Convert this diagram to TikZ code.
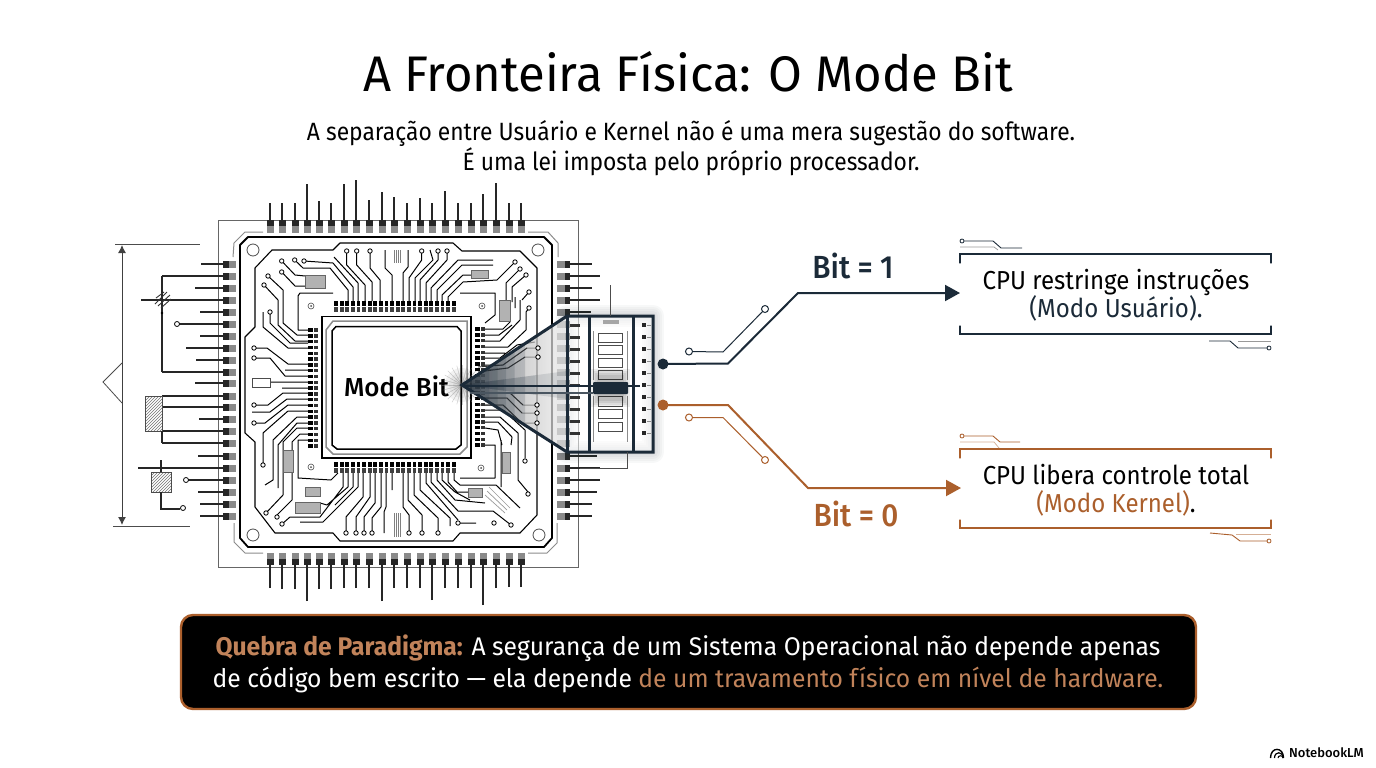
\documentclass[tikz,border=0pt]{standalone}
\usepackage{fontspec}
\setmainfont{Fira Sans}
\newfontfamily\ttl[FakeStretch=0.98]{Fira Sans}
\newfontfamily\cond[FakeStretch=0.913]{Fira Sans}
\newfontfamily\boxf[FakeStretch=0.925]{Fira Sans}
\newfontfamily\banf[FakeStretch=0.967,BoldFont={Fira Sans Bold}]{Fira Sans}
\newfontfamily\med{Fira Sans Medium}
\newfontfamily\bitf[FakeStretch=0.93]{Fira Sans Medium}
\usetikzlibrary{patterns,arrows.meta}
\definecolor{navy}{HTML}{1B2A38}
\definecolor{rust}{HTML}{AB5F2C}
\definecolor{rustl}{HTML}{C1835A}
\definecolor{padg}{HTML}{8A8A8A}
\newcommand\fs[1]{\fontsize{#1}{#1}\selectfont}
\tikzset{
 tr/.style={line width=1pt,black,line join=round},
 thin gray/.style={line width=0.7pt,black!40},
 ringst/.style={line width=0.8pt,black,fill=white},
 pin/.style={line width=1.2pt,black!85},
 frame/.style={line width=1.8pt,black,line join=round},
 hatch/.style={draw=black!70,line width=0.7pt,pattern=north east lines,pattern color=black!55},
 chipn/.style={fill=black!30,draw=black!60,line width=0.4pt},
 lbl/.style={inner sep=0pt,anchor=base,align=center},
 brk/.style={line width=1.1pt,line cap=round},
 mem/.style={draw=black!70,line width=0.8pt,fill=white},
}
\begin{document}
\begin{tikzpicture}[x=1pt,y=-1pt]
\useasboundingbox (0,0) rectangle (1376,768);
\fill[white] (0,0) rectangle (1376,768);

% title
\node[lbl] (title) at (688,92) {\ttl\fs{50}A Fronteira Física: O Mode Bit};
\node[lbl] (sub1) at (691,140) {\cond\fs{25}A separação entre Usuário e Kernel não é uma mera sugestão do software.};
\node[lbl] (sub2) at (691,170) {\cond\fs{25}É uma lei imposta pelo próprio processador.};

% outer board
\draw[line width=0.8pt,black!60] (218,220) rectangle (578,567);
\draw[line width=1pt,black!45] (233,257)--(234,243)--(245,232)--(263,232);
\draw[line width=1pt,black!45] (528,232)--(548,232)--(558,243)--(558,257);
\draw[line width=1pt,black!45] (234,523)--(234,542)--(245,553)--(263,553);
\draw[line width=1pt,black!45] (528,553)--(547,553)--(557,543)--(557,523);
\draw[frame] (248,237)--(544,237)--(552,245)--(552,538)--(544,547)--(248,547)--(240,538)--(240,245)--cycle;
\draw[tr,line width=1.1pt] (255,268)--(272,250)--(333,250)--(340,243)--(453,243)--(462,251)--(520,251)--(537,268)--(537,515)--(520,533)--(460,533)--(453,541)--(340,541)--(333,533)--(275,533)--(255,507)--(255,442)--(245,433)--(245,337)--(255,327)--cycle;
\foreach \x/\y in {253/250,538/250,253/535,539/535} \draw[line width=0.8pt,black!70] (\x,\y) circle (6pt);

% board pads and pins
\foreach \x/\t [count=\i] in {270/203,282/203,295/203,307/184,319/201,331/203,344/184,356/180,369/200,382/192,394/197,407/203,420/198,432/203,445/191,458/203,471/203,483/194,496/183,509/203,521/203}{
  \draw[pin] (\x,\t)--(\x,220);
  \fill[black!85] (\x-3.5,220) rectangle (\x+3.5,226);
  \fill[padg] (\x-3.5,226) rectangle (\x+3.5,233);
}
\foreach \x/\t in {270/588,282/589,295/589,307/601,319/589,331/589,344/588,356/588,369/588,382/601,394/588,407/588,420/588,432/600,445/588,458/588,471/588,483/605,496/588,509/587,521/587}{
  \draw[pin] (\x,\t)--(\x,564);
  \fill[padg] (\x-3.5,553) rectangle (\x+3.5,559);
  \fill[black!85] (\x-3.5,559) rectangle (\x+3.5,565);
}
\foreach \y/\t in {264/201,276/162,288/195,300/141,312/200,324/177,336/200,348/186,360/196,372/162,383/195,396/162,407/162,419/199,431/162,443/162,456/198,468/138,480/186,492/198,504/200,516/200}{
  \draw[pin] (\t,\y)--(223,\y);
  \fill[black!85] (223,\y-3.5) rectangle (229,\y+3.5);
  \fill[padg] (229,\y-3.5) rectangle (236,\y+3.5);
}
\foreach \y/\t in {264/592,276/600,288/592,300/600,312/591,324/570,336/570,348/570,360/570,372/570,383/570,396/570,407/570,419/570,431/570,443/570,456/597,468/600,480/600,492/597,504/592,516/592}{
  \draw[pin] (570,\y)--(\t,\y);
  \fill[padg] (557,\y-3.5) rectangle (565,\y+3.5);
  \fill[black!85] (565,\y-3.5) rectangle (570,\y+3.5);
}

% left schematic
\draw[line width=1pt,black!70] (115,244)--(200,244) (113,526)--(190,526);
\draw[line width=1pt,black!75,{Latex[length=8pt,width=8pt]}-{Latex[length=8pt,width=8pt]}] (122,245)--(122,525);
\draw[line width=0.8pt,black!70] (122,363)--(103,382)--(122,403);
\draw[pin] (162,276)--(162,372);
\draw[line width=0.9pt,black!80] (155,304)--(167,292) (158,306)--(170,295) (161,308)--(171,299) (156,298)--(164,292);
\fill (162,313) circle (1.3pt);
\draw[hatch] (145,396) rectangle (162,431);
\draw[pin] (162,431)--(162,443);
\draw[hatch] (151,472) rectangle (171,492);
\draw[pin] (161,472)--(161,460) (161,492)--(161,509)--(180,509);
\draw[ringst] (177,324) circle (2.5pt) (186,480) circle (2.5pt) (183,508) circle (2.5pt);

% traces
\draw[tr]
 (281.7,261)--(295,275)--(305,276) (281.7,272)--(295,286)--(305,286)
 (294.7,260)--(303,268)--(330,268)--(348,290)--(348,301)
 (304,261)--(333,263)--(353,287)--(353,301)
 (334,257)--(358,283)--(358,301)
 (346.7,251)--(346.7,265)--(365,285)--(365,301)
 (356.7,251)--(356.7,265)--(372,282)--(372,301)
 (370,251)--(370,268)--(380,280)--(380,301)
 (385,250)--(385,268)--(392,275)--(392,301)
 (408,250)--(408,267)--(403,273)--(403,301)
 (421.7,251)--(421.7,260)--(409,278)--(409,301)
 (430,250)--(433,260)--(415,278)--(415,301)
 (438,251)--(438,260)--(420,280)--(420,301)
 (447,251)--(447,260)--(426,283)--(426,301)
 (493,260)--(458,260)--(431,288)--(431,301)
 (493,265)--(462,265)--(437,290)--(437,301)
 (471,275)--(463,275)--(442,295)--(442,301)
 (515,262)--(497,280)--(463,282)--(448,297)--(448,301)
 (520,269)--(506,283)--(506,300) (526,275)--(512,287)--(512,302) (515,297)--(515,308) (529,292)--(522,300)
 (529,308)--(526,312)--(526,330)--(508,347)--(485,347)
 (485,329)--(503,329)--(510,322)
 (485,335)--(499,335)--(512,325)
 (485,341)--(500,341)--(520,320)--(520,300)
 (485,353)--(505,353)
 (485,358)--(500,358)--(517,345)--(535,342)
 (538,348)--(527,348)--(503,365)--(485,365)
 (538,357)--(525,357)--(508,368)--(485,370)
 (537,405)--(523,405)--(510,393)--(485,393)
 (537,413)--(522,413)--(507,398)--(485,398)
 (537,423)--(522,423)--(503,405)--(485,405)
 (485,410)--(503,410)--(525,430)--(525,458)
 (485,417)--(500,417)--(518,433)--(518,480)--(528,492)
 (485,422)--(498,422)--(512,437)--(511,445)
 (485,428)--(498,430)--(502,445)
 (501,440)--(501,487)
 (403,473)--(403,507)--(409,515)--(409,533)
 (408,473)--(408,500)--(422,515)--(422,533)
 (414,473)--(414,495)--(438,518)--(438,533)
 (420,473)--(420,490)--(450,518)--(450,526)
 (426,473)--(426,483)--(458,520)
 (431,473)--(431,482)--(458,511)--(493,511)--(511,525)
 (437,473)--(437,480)--(455,500)--(485,503)
 (442,473)--(442,480)--(455,492)--(470,500)
 (448,473)--(448,482)--(457,492)--(468,492)
 (454,473)--(454,480)--(460,485)--(496,485)--(520,508)
 (458,523)--(476,523)
 (268,276)--(283,290)--(283,323)--(297,335)--(308,335)
 (264,285)--(278,300)--(278,325)--(295,341)--(308,341)
 (270,312)--(270,323)--(290,343)--(308,343)
 (263,312)--(263,327)--(288,348)--(308,348)
 (254,348)--(267,348)--(288,364)--(308,364)
 (285,370)--(308,370)
 (254,358)--(270,358)--(285,376)--(308,376)
 (270,382)--(308,382) (282,388)--(308,388)
 (254,405)--(268,405)--(283,393)--(308,393)
 (252,412)--(270,412)--(287,399)--(308,399)
 (254,423)--(265,423)--(288,405)--(308,405)
 (263,463)--(263,433)--(288,411)--(308,411)
 (265,485)--(273,480)--(273,440)--(297,417)--(308,417)
 (278,488)--(278,445)--(297,423)--(308,423)
 (266,513)--(283,495)--(283,442)--(297,428)--(308,428)
 (277,515)--(292,500)--(292,442)--(300,434)--(308,434)
 (300,440)--(308,440)
 (282,524)--(290,517)--(320,517)--(343,487)--(343,473)
 (348,473)--(348,487)--(327,505)--(320,503)
 (353,473)--(353,487)--(335,505)
 (300,522)--(323,522)--(358,487)--(358,473)
 (346,533)--(346,517)--(363,497)--(363,473)
 (356,533)--(356,517)--(370,497)--(370,473)
 (364,533)--(364,517)--(375,503)--(375,473)
 (372,533)--(372,518)--(381,507)--(381,473)
 (384,533)--(384,512)--(386,507)--(386,473)
 (392,473)--(392,490)
 (333,293)--(300,293)--(298,296)--(298,330)--(308,330)
 (308,440)--(298,440)--(298,478)--(331,480)--(338,473)
 (460,293)--(495,293)--(495,315)--(485,323)
 (485,445)--(495,445)--(495,478)--(460,478);
\draw[thin gray] (485,495)--(505,513) (487,491)--(507,510) (489,487)--(510,508);
% rings
\foreach \x/\y in {281.7/261,294.7/260,304/261,281.7/272,346.7/251,356.7/251,370/251,421.7/251,438/251,447/251,515/262,520/269,526/275,529/292,529/308,538/348,538/357,537/405,537/413,537/423,525/461,528/494,511/525,458/523,409/533,422/533,438/533,268/276,264/285,270/312,254/348,254/358,254/405,254/423,263/465,266/513,277/517,282/524,346/533,356/533,364/533,372/533,494/523}
  \draw[ringst,line width=0.8pt] (\x,\y) circle (2.2pt);
\foreach \x/\y in {311/306,482/306,311/467,481/468}{
  \draw[line width=0.6pt,black!70] (\x,\y) circle (3pt);
  \fill[black!70] (\x,\y) circle (1pt);
}
% components
\draw[chipn] (305,275) rectangle (325,288);
\draw[chipn] (471,270) rectangle (488,278);
\draw[chipn] (499,300) rectangle (510,321);
\draw[chipn] (502,452) rectangle (510,473);
\draw[chipn] (283,450) rectangle (293,472);
\draw[chipn] (305,487) rectangle (320,496);
\draw[chipn] (295,502) rectangle (320,513);
\draw[chipn] (468,488) rectangle (482,497);
\draw[line width=0.6pt,black!70] (252,378) rectangle (270,387);
\foreach \x in {394,396,398,400} \draw[line width=0.5pt,black!50] (\x,250)--(\x,263);
\foreach \x in {394,396,398,400} \draw[line width=0.5pt,black!50] (\x,513)--(\x,537);

% chip pads
\foreach \i in {0,...,21}{
  \fill[black] (336+5.6*\i-1.9,301) rectangle (336+5.6*\i+1.9,306);
  \fill[black!75] (336+5.6*\i-1.9,307) rectangle (336+5.6*\i+1.9,312);
  \fill[black] (336+5.6*\i-1.9,462) rectangle (336+5.6*\i+1.9,467);
  \fill[black!75] (336+5.6*\i-1.9,468) rectangle (336+5.6*\i+1.9,473);
}
\foreach \i in {0,...,20}{
  \fill[black] (308,330+5.8*\i-1.7) rectangle (312.5,330+5.8*\i+1.7);
  \fill[black!80] (313.5,330+5.8*\i-1.7) rectangle (318,330+5.8*\i+1.7);
  \fill[black] (475,329+5.8*\i-1.7) rectangle (479.5,329+5.8*\i+1.7);
  \fill[black!80] (480.5,329+5.8*\i-1.7) rectangle (485,329+5.8*\i+1.7);
}

% chip
\draw[line width=1.6pt,black,fill=white] (322,316.5) rectangle (471,458);
\draw[line width=1.5pt,black!45] (326,330)--(333,321)--(467,321)--(467,447)--(460,454)--(333,454)--(326,447)--cycle;
\draw[line width=1.5pt,black,fill=white] (336,326.5)--(457,326.5)--(461,331)--(461,445)--(456,449)--(337,449)--(332,445)--(332,331)--cycle;
\node[lbl] (modebit) at (396.5,396) {\med\fs{26}Mode Bit};

% callout halo
\foreach \w in {22,18,14,10,6} \draw[navy,opacity=0.03,line width=\w pt,line join=round] (567,316)--(653,316)--(653,452)--(567,452)--cycle;
% wedge
\shade[left color=black!50,right color=black!6,opacity=0.7] (462,385)--(567,317)--(567,452)--cycle;
\foreach \a in {0,15,...,345} \draw[black!45,opacity=0.4,line width=0.5pt] (462,385)--++(\a:20pt);
\foreach \r in {5,9,13,17} \fill[black,opacity=0.05] (462,385) circle (\r pt);
% redraw wedge traces
\draw[black!80,line width=0.9pt] (527,348)--(503,365)--(478,367) (525,357)--(508,368)--(478,372) (523,405)--(510,393)--(478,393) (522,413)--(507,398)--(478,398) (522,423)--(503,405)--(478,405);
\foreach \x/\y in {538/348,538/357,537/405,537/413,537/423} \draw[ringst,line width=0.8pt] (\x,\y) circle (2.2pt);
\fill[white,opacity=0.55] (567,316) rectangle (653,452);
% callout content
\foreach \y in {325,337,349,361,373,385,397,409,421,433} {
  \fill[black!80] (570,\y-1.5) rectangle (580,\y+1.5);
  \fill[black!85] (642,\y-2) rectangle (646,\y+2);
  \draw[black!45,line width=0.6pt] (647,\y)--(651,\y);
}
\foreach \y/\h in {333/9,345/9,358/9,370/9,396/10,409/9,422/9} \draw[mem] (598,\y) rectangle (622,\y+\h);
\draw[black!45,line width=0.7pt] (593,331)--(593,380) (627,331)--(627,380) (593,396)--(593,442) (627,396)--(627,442);
\fill[black!35] (603,320) rectangle (619,324);
\foreach \p in {0,2,4,6} \fill[black,opacity=0.07] (597-\p,375-\p) rectangle (624+\p,401+\p);
% soft wedge darkening
\foreach \f in {0.18,0.26,0.34,0.42,0.5,0.6} \fill[navy,opacity=0.16] (462,385)--(462+105*\f,385-69*\f)--(462+105*\f,385+67*\f)--cycle;
\foreach \f in {0.4,0.7,1} \fill[navy,opacity=0.12] (462,385)--(462+105*\f,385-14*\f)--(462+105*\f,385+14*\f)--cycle;
\draw[navy,line width=3pt,line join=miter] (462,385)--(567,316)--(653,316)--(653,452)--(567,452)--cycle;
\draw[navy,line width=3pt] (567,316)--(567,452) (589,316)--(589,452) (633,316)--(633,452);
\draw[navy,line width=2pt] (462,386)--(640,386);
\draw[navy!80,line width=1.2pt] (470,393)--(593,393);
\fill[navy,rounded corners=1pt] (593,382) rectangle (628,394);
\draw[line width=0.8pt,black!70] (610,285)--(610,316) (627,452)--(627,468)--(580,468);

% mode lines
\node[circle,fill=navy,inner sep=0pt,minimum size=11pt] (dot1) at (663,364) {};
\node[circle,fill=rust,inner sep=0pt,minimum size=11pt] (dot0) at (663,405) {};
\coordinate (b1) at (728,363.5);
\coordinate (b1t) at (798,293);
\coordinate (a1) at (960,293);
\coordinate (b0) at (728,405);
\coordinate (b0t) at (808,488);
\coordinate (a0) at (961,488);
\draw[navy,line width=2pt,-{Triangle[length=15pt,width=16pt]}] (dot1.center)--(b1)--(b1t)--(a1);
\draw[rust,line width=2pt,-{Triangle[length=15pt,width=16pt]}] (dot0.center)--(b0)--(b0t)--(a0);
\node[circle,draw=navy,fill=white,line width=1pt,inner sep=0pt,minimum size=7pt] (r1a) at (689,351.5) {};
\node[circle,draw=navy,fill=white,line width=1pt,inner sep=0pt,minimum size=7pt] (r1b) at (765,309) {};
\coordinate (k1) at (723,352);
\draw[navy,line width=1pt] (r1a)--(k1)--(r1b);
\node[circle,draw=rust,fill=white,line width=1pt,inner sep=0pt,minimum size=7pt] (r0a) at (689,417.5) {};
\node[circle,draw=rust,fill=white,line width=1pt,inner sep=0pt,minimum size=7pt] (r0b) at (765,460) {};
\coordinate (k0) at (723,417.5);
\draw[rust,line width=1pt] (r0a)--(k0)--(r0b);
\node[lbl,text=navy] (bit1) at (853,278) {\bitf\fs{32}Bit = 1};
\node[lbl,text=rust] (bit0) at (856,526) {\bitf\fs{32}Bit = 0};

% result boxes
\draw[brk,navy] (960,263)--(960,254)--(1271,254)--(1271,263);
\draw[brk,navy] (960,326)--(960,334)--(1271,334)--(1271,326);
\node[lbl] (u1) at (1116,289) {\boxf\fs{26}CPU restringe instruções};
\node[lbl] (u2) at (1116,317) {\boxf\fs{26}\textcolor{navy}{(Modo Usuário).}};
\draw[navy,line width=0.9pt] (964,241)--(993,241)--(1001,248)--(1022,248);
\draw[black!40,line width=0.7pt] (960,247)--(994,247)--(998,250);
\draw[navy,line width=0.8pt,fill=white] (962,241) circle (2pt);
\draw[navy,line width=0.9pt] (1209,341)--(1230,341)--(1238,348)--(1267,348);
\draw[black!40,line width=0.7pt] (1238,341)--(1271,341);
\draw[navy,line width=0.8pt,fill=white] (1269,348) circle (2pt);

\draw[brk,rust] (960,458)--(960,449)--(1271,449)--(1271,458);
\draw[brk,rust] (960,520)--(960,528)--(1271,528)--(1271,520);
\node[lbl] (k1t) at (1116,484) {\boxf\fs{26}CPU libera controle total};
\node[lbl] (k2t) at (1116,512) {\boxf\fs{26}\textcolor{rust}{(Modo Kernel)}.};
\draw[rust,line width=0.9pt] (964,436)--(993,436)--(1000,442)--(1020,442);
\draw[rust!50,line width=0.7pt] (960,442)--(994,442)--(999,448);
\draw[rust,line width=0.8pt,fill=white] (962,436) circle (2pt);
\draw[rust,line width=0.9pt] (1210,533)--(1232,535)--(1240,541)--(1267,541);
\draw[rust!50,line width=0.7pt] (1236,534)--(1271,534);
\draw[rust,line width=0.8pt,fill=white] (1269,541) circle (2pt);

% banner
\draw[draw=rust,line width=2.4pt,fill=black,rounded corners=12pt] (181,615) rectangle (1196,709);
\node[lbl,text=white] (ban1) at (688,655) {\banf\fs{25.5}\textcolor{rustl}{\textbf{Quebra de Paradigma:}} A segurança de um Sistema Operacional não depende apenas};
\node[lbl,text=white] (ban2) at (688,687) {\banf\fs{25.5}de código bem escrito — ela depende \textcolor{rustl}{de um travamento físico em nível de hardware.}};

% brand
\draw[line width=1.4pt,black] (1270.5,758) .. controls (1270.5,746.5) and (1283.5,746.5) .. (1283.5,758);
\draw[line width=1.2pt,black] (1274.5,758) .. controls (1274.5,751) and (1283,751) .. (1283,758);
\draw[line width=1.1pt,black] (1278,758) .. controls (1278,755) and (1283,755) .. (1283,758);
\node[lbl,anchor=base west] (nb) at (1289,757) {\med\fs{13}NotebookLM};
\end{tikzpicture}
\end{document}
